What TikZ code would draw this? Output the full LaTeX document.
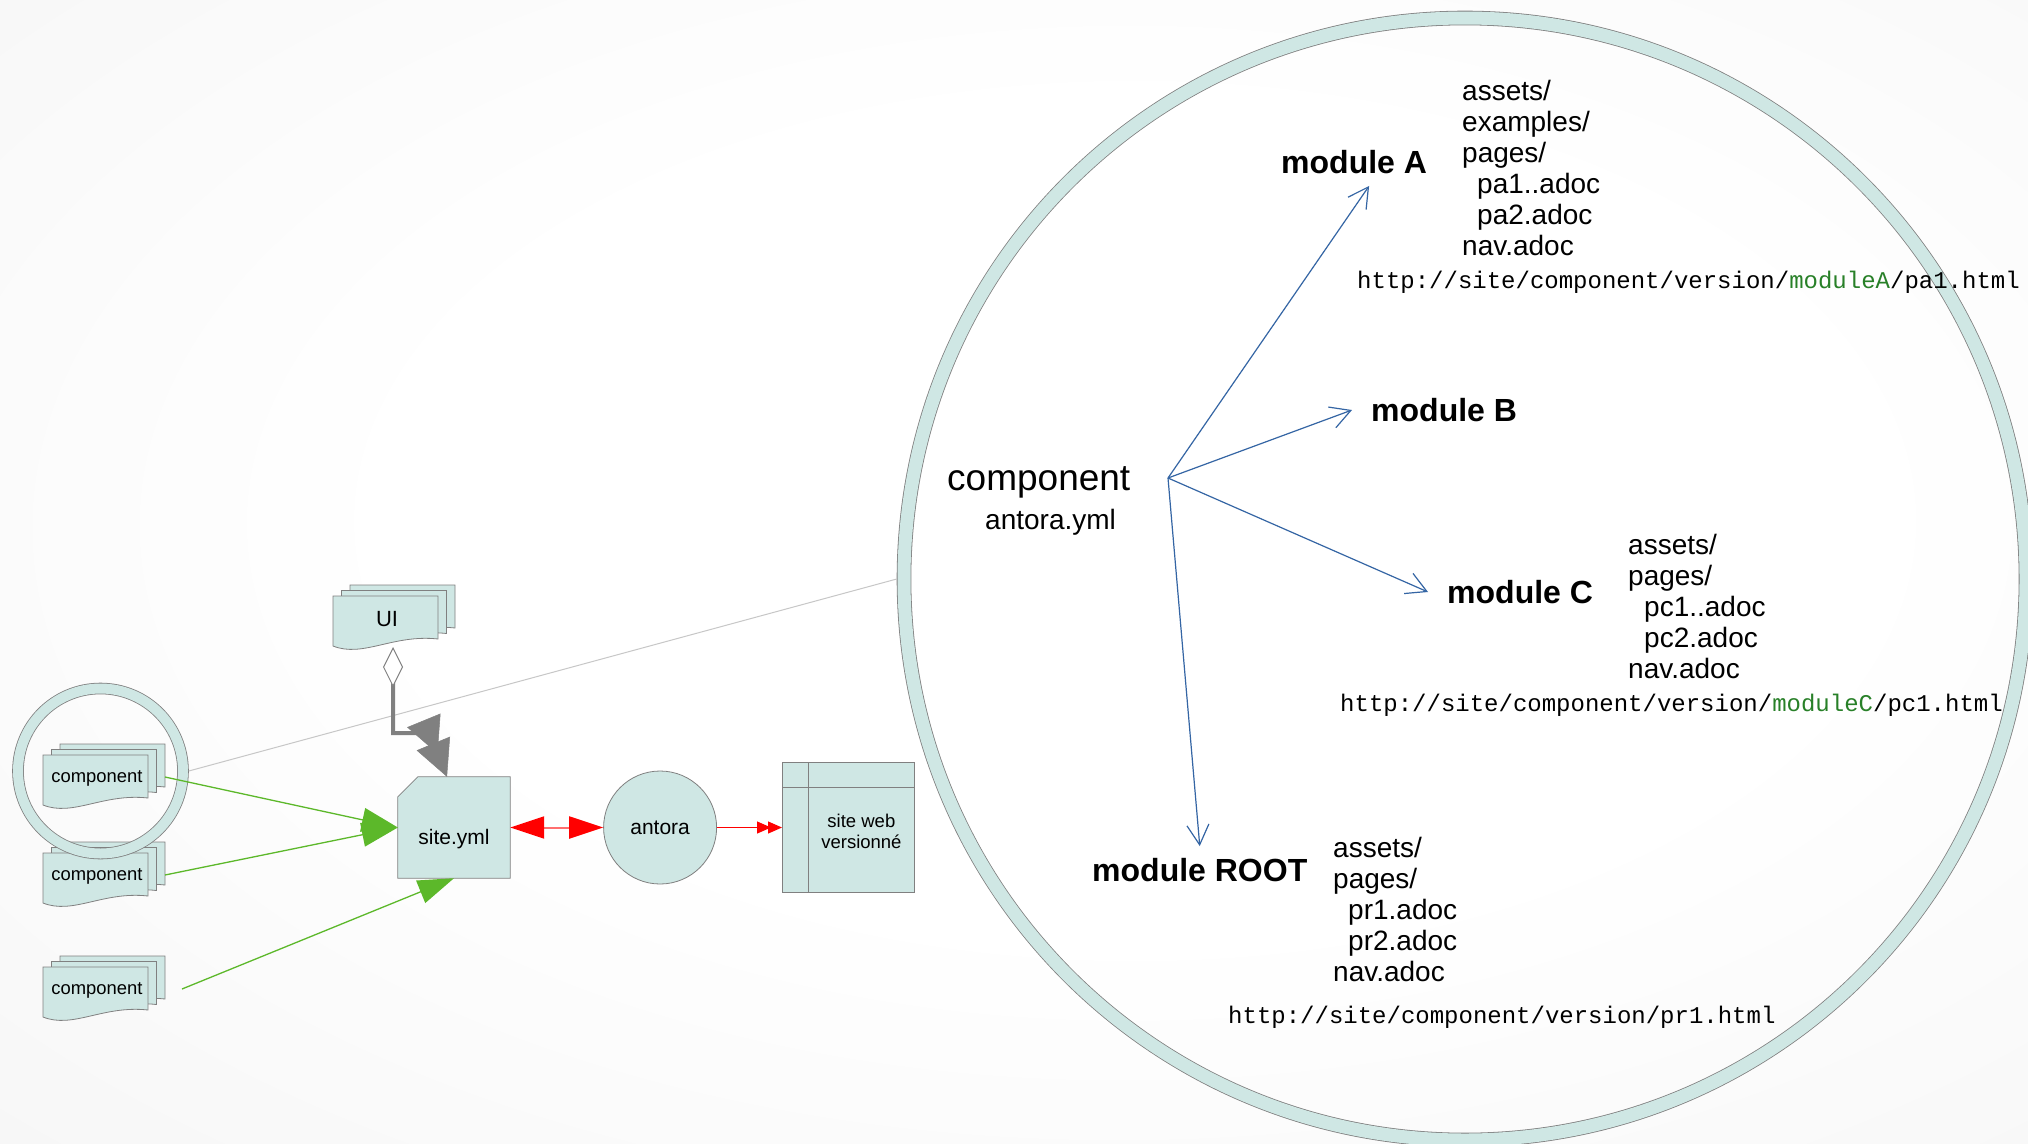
\documentclass[tikz,border=0pt]{standalone}
\usepackage{fontspec}
\setmainfont{Liberation Sans}
\setmonofont{Liberation Mono}
\usepackage{tikz}
\usetikzlibrary{arrows.meta,positioning,shapes.misc}
\definecolor{paletea}{RGB}{207,231,228}
\definecolor{edgegray}{RGB}{128,128,128}
\definecolor{leafgreen}{RGB}{92,184,42}
\definecolor{linkblue}{RGB}{52,101,164}
\definecolor{urlgreen}{RGB}{40,128,40}
\definecolor{softred}{RGB}{255,110,110}
\pgfdeclareradialshading{backdrop}{\pgfpoint{4bp}{3bp}}{%
    color(0bp)=(white); color(18bp)=(white); color(50bp)=(black!5); color(75bp)=(black!8)}
\tikzset{
    >={Straight Barb[length=20pt,width=22pt]},
    sheet/.style={fill=paletea, draw=edgegray, line width=0.8pt},
    ring/.style={
        circle,
        draw=edgegray, line width=0.8pt,
        double=paletea,
        inner sep=0pt
    },
    doclabel/.style={inner sep=0pt, font=\fontsize{18.4}{22}\selectfont},
    docstack/.pic={
        \foreach \k in {2,1,0}
            \draw[sheet, shift={(8.5*\k,-5.5*\k)}] (0,0) -- (105,0) -- (105,43)
                .. controls (60,38) and (30,62) .. (0,50) -- cycle;
        \node[doclabel] (-txt) at (54,23) {#1};
        \coordinate (-out) at (122,22);
    },
    boxtext/.style={inner sep=0pt, font=\fontsize{21}{25}\selectfont},
    roundbox/.style={
        circle, fill=paletea, draw=edgegray, line width=0.8pt,
        minimum size=113pt, inner sep=0pt,
        font=\fontsize{21}{25}\selectfont
    },
    webbox/.style={
        rectangle, fill=paletea, draw=edgegray, line width=0.8pt,
        minimum width=132pt, minimum height=130pt, inner sep=0pt
    },
    weblabel/.style={inner sep=0pt, align=center, font=\fontsize{18.5}{21}\selectfont},
    leafarrow/.style={draw=leafgreen, line width=1.3pt, -{Triangle[length=36pt,width=24pt]}},
    redlink/.style={draw=softred, line width=2pt,
        {Triangle[length=34pt,width=22pt,color=red]}-{Triangle[length=34pt,width=22pt,color=red]}},
    redout/.style={draw=red, line width=1.2pt,
        -{Triangle[length=14pt,width=12pt,sep=-3pt]Triangle[length=14pt,width=12pt]}},
    uiarrow/.style={draw=edgegray, line width=4pt,
        {Diamond[fill=white,length=40pt,width=20pt,line width=1pt]}-{Triangle[length=36pt,width=36pt,sep=-11pt,line width=0.5pt]Triangle[length=36pt,width=36pt,line width=0.5pt]}},
    zoomline/.style={draw=black!22, line width=1pt},
    bigtext/.style={inner sep=0pt, font=\fontsize{37}{44}\selectfont},
    midtext/.style={inner sep=0pt, font=\fontsize{28}{31}\selectfont},
    modname/.style={inner xsep=19pt, inner ysep=12pt, font=\bfseries\fontsize{32}{38}\selectfont},
    tree/.style={inner sep=0pt, align=left, font=\fontsize{28}{31}\selectfont},
    url/.style={inner sep=0pt, font=\ttfamily\fontsize{24}{28}\selectfont},
    modlink/.style={draw=linkblue, line width=1.2pt, ->},
}
\begin{document}
\begin{tikzpicture}[x=1pt,y=-1pt]
\useasboundingbox (0,0) rectangle (2028,1143);
\clip (0,0) rectangle (2028,1143);
\shade[shading=backdrop] (0,0) rectangle (2028,1143);

% zoom on the component
\node[ring, minimum size=1122pt, double distance=13pt, outer sep=7.3pt] (zoombig) at (1465,579) {};

% sources
\pic (c1) at (43,755) {docstack={component}};
\pic (c2) at (43,853) {docstack={component}};
\pic (c3) at (43,967) {docstack={component}};
\pic (ui) at (333,596) {docstack={\fontsize{22}{26}\selectfont UI}};
\node[ring, minimum size=165pt, double distance=10pt, outer sep=5.8pt] (zoomsmall) at (100.5,771) {};
\draw[zoomline] (zoomsmall.east) -- (zoombig.west);

% site.yml, antora, output
\node[rectangle, minimum width=112pt, minimum height=101pt, inner sep=0pt] (site) at (454,827.5) {};
\draw[sheet] ([yshift=-20pt]site.north west) -- ([xshift=20pt]site.north west) -- (site.north east)
    -- (site.south east) -- (site.south west) -- cycle;
\node[boxtext] (sitelbl) at ([yshift=-11.5pt]site.center) {site.yml};
\node[roundbox, right=93pt of site] (antora) {antora};
\node[webbox, right=65pt of antora] (web) {};
\draw[edgegray, line width=0.8pt] ([xshift=26pt]web.north west) -- ([xshift=26pt]web.south west);
\draw[edgegray, line width=0.8pt] ([yshift=-25pt]web.north west) -- ([yshift=-25pt]web.north east);
\node[weblabel] (weblbl) at ([xshift=13pt,yshift=-3.5pt]web.center) {site web\\versionné};

\draw[leafarrow] (c1-out) -- (site.west);
\draw[leafarrow] (c2-out) -- (site.west);
\draw[leafarrow] ([xshift=17pt]c3-out) -- (site.south);
\draw[redlink] (site.east) -- (antora.west);
\draw[redout] (antora.east) -- (web.west);
\coordinate (uifoot) at (393,647);
\draw[uiarrow] (uifoot) |- ++(36,86) -- ([xshift=-7pt]site.north);

% inside the component
\node[bigtext, anchor=west] (comp) at (947,482) {component};
\node[midtext, anchor=west] (compyml) at (985,522) {antora.yml};
\coordinate (hub) at (1168,478);
\node[modname, anchor=west] (modA) at (1262,162) {module A};
\node[modname, anchor=west] (modB) at (1352,410) {module B};
\node[modname, anchor=west] (modC) at (1428,592) {module C};
\node[modname, anchor=west] (modR) at (1073,870) {module ROOT};
\node[tree, anchor=west] (treeA) at (1462,168) {assets/\\examples/\\pages/\\\hspace*{15pt}pa1..adoc\\\hspace*{15pt}pa2.adoc\\nav.adoc};
\node[tree, anchor=west] (treeC) at (1628,606) {assets/\\pages/\\\hspace*{16pt}pc1..adoc\\\hspace*{16pt}pc2.adoc\\nav.adoc};
\node[tree, anchor=west] (treeR) at (1333,909) {assets/\\pages/\\\hspace*{15pt}pr1.adoc\\\hspace*{15pt}pr2.adoc\\nav.adoc};
\node[url, anchor=west] (urlA) at (1357,282) {http://site/component/version/\textcolor{urlgreen}{moduleA}/pa1.html};
\node[url, anchor=west] (urlC) at (1340,705) {http://site/component/version/\textcolor{urlgreen}{moduleC}/pc1.html};
\node[url, anchor=west] (urlR) at (1228,1017) {http://site/component/version/pr1.html};

\draw[modlink] (hub) -- ([xshift=15pt]modA.south);
\draw[modlink] (hub) -- (modB.west);
\draw[modlink] (hub) -- (modC.west);
\draw[modlink] (hub) -- (modR.north);
\end{tikzpicture}
\end{document}
